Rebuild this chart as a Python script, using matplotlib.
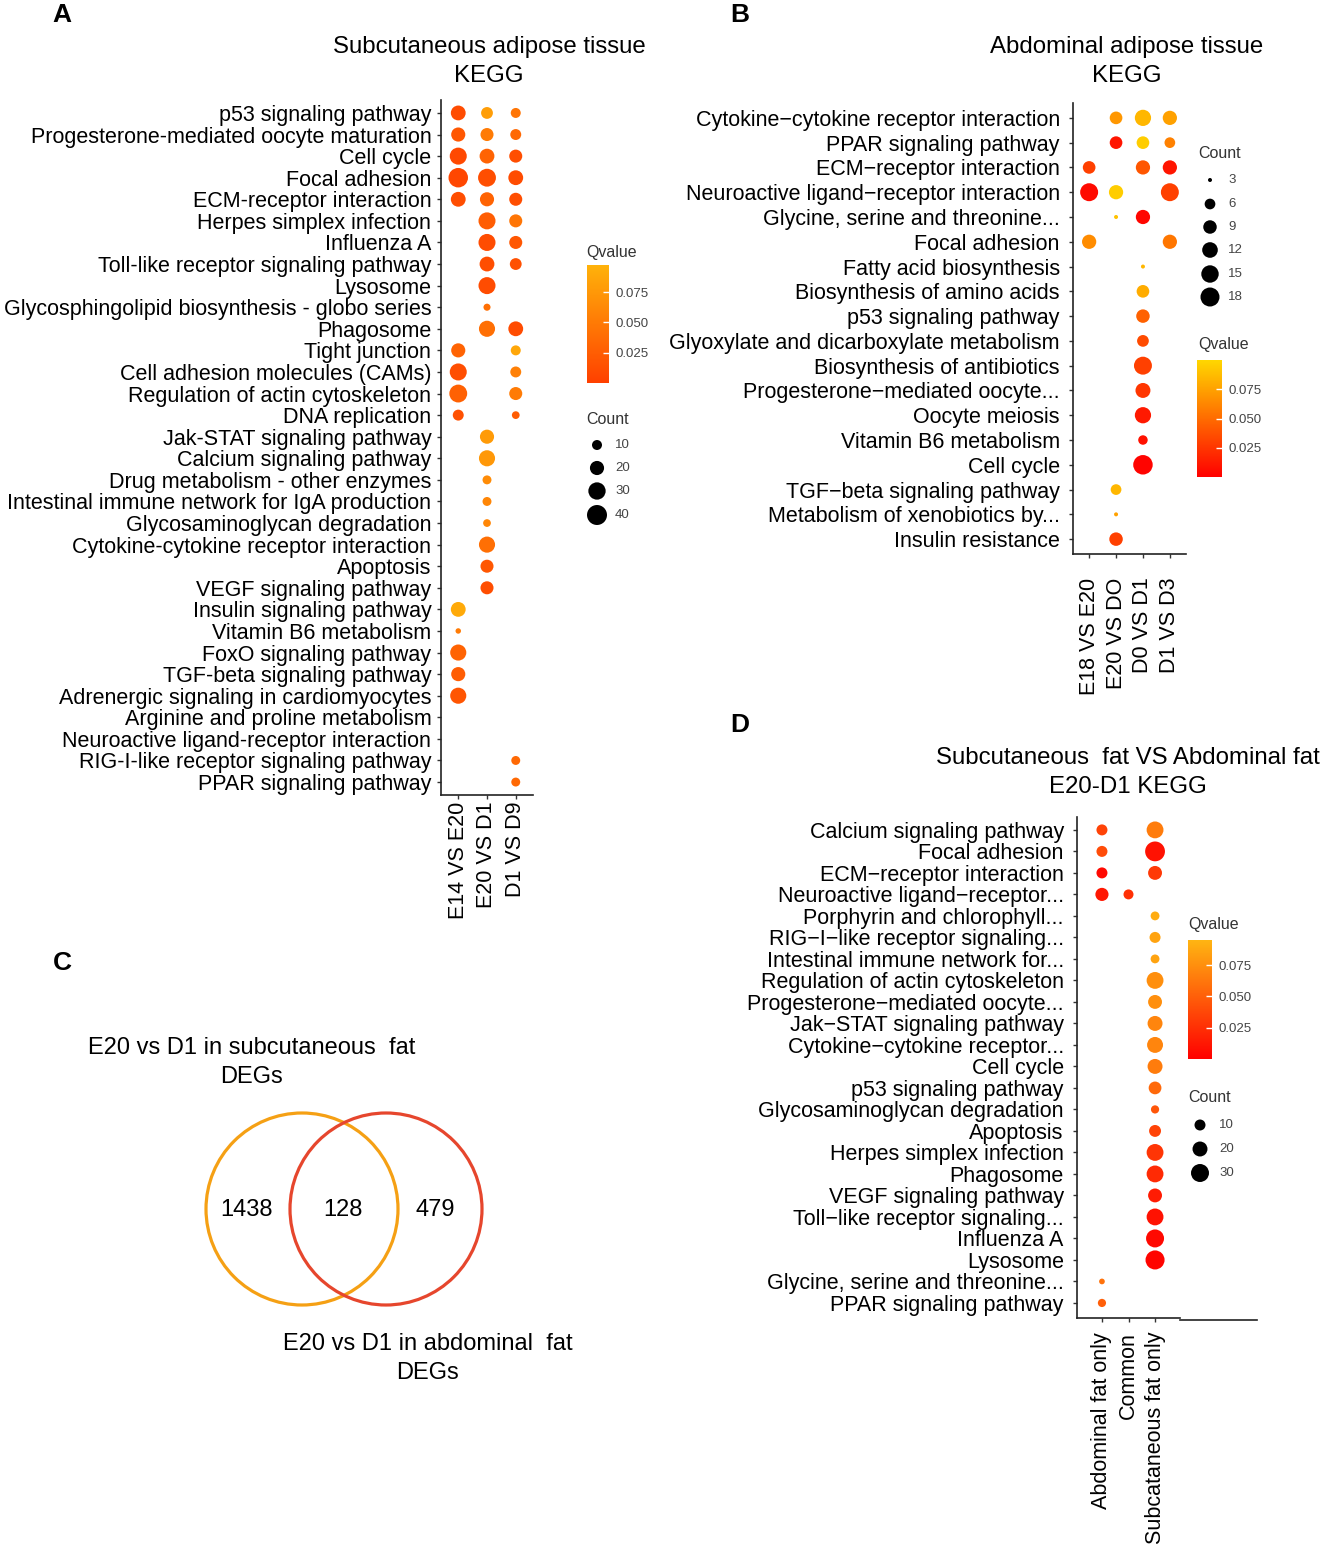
import numpy as np
import matplotlib
matplotlib.use("Agg")
import matplotlib.pyplot as plt
from matplotlib.colors import LinearSegmentedColormap, Normalize
from matplotlib.patches import Circle
import matplotlib.cm as cm

plt.rcParams['font.family'] = ['Liberation Sans', 'DejaVu Sans']

W, H = 1326, 1550
M = "\u2212"

# ---------------- Panel A data ----------------
A_pathways = [
    "p53 signaling pathway", "Progesterone-mediated oocyte maturation", "Cell cycle",
    "Focal adhesion", "ECM-receptor interaction", "Herpes simplex infection", "Influenza A",
    "Toll-like receptor signaling pathway", "Lysosome",
    "Glycosphingolipid biosynthesis - globo series", "Phagosome", "Tight junction",
    "Cell adhesion molecules (CAMs)", "Regulation of actin cytoskeleton", "DNA replication",
    "Jak-STAT signaling pathway", "Calcium signaling pathway", "Drug metabolism - other enzymes",
    "Intestinal immune network for IgA production", "Glycosaminoglycan degradation",
    "Cytokine-cytokine receptor interaction", "Apoptosis", "VEGF signaling pathway",
    "Insulin signaling pathway", "Vitamin B6 metabolism", "FoxO signaling pathway",
    "TGF-beta signaling pathway", "Adrenergic signaling in cardiomyocytes",
    "Arginine and proline metabolism", "Neuroactive ligand-receptor interaction",
    "RIG-I-like receptor signaling pathway", "PPAR signaling pathway"]
A_groups = ["E14 VS E20", "E20 VS D1", "D1 VS D9"]
A_count = [
    [22, 14, 10], [20, 17, 12], [29, 22, 17], [38, 32, 22], [22, 20, 17],
    [None, 29, 17], [None, 29, 17], [None, 22, 14], [None, 29, None], [None, 5, None],
    [None, 26, 22], [20, None, 10], [29, None, 12], [32, None, 17], [12, None, 6],
    [None, 20, None], [None, 26, None], [None, 8, None], [None, 8, None], [None, 6, None],
    [None, 26, None], [None, 17, None], [None, 17, None], [22, None, None], [3, None, None],
    [26, None, None], [20, None, None], [26, None, None], [None, None, None],
    [None, None, None], [None, None, 8], [None, None, 8]]
A_qvalue = [
    [0.010, 0.080, 0.045], [0.020, 0.050, 0.035], [0.008, 0.030, 0.012],
    [0.006, 0.012, 0.010], [0.012, 0.030, 0.012], [None, 0.025, 0.045],
    [None, 0.010, 0.020], [None, 0.012, 0.015], [None, 0.010, None], [None, 0.040, None],
    [None, 0.040, 0.010], [0.030, None, 0.088], [0.012, None, 0.055], [0.028, None, 0.050],
    [0.015, None, 0.025], [None, 0.078, None], [None, 0.075, None], [None, 0.065, None],
    [None, 0.060, None], [None, 0.060, None], [None, 0.040, None], [None, 0.020, None],
    [None, 0.012, None], [0.090, None, None], [0.050, None, None], [0.030, None, None],
    [0.025, None, None], [0.018, None, None], [None, None, None], [None, None, None],
    [None, None, 0.035], [None, None, 0.035]]
A_count_breaks = [10, 20, 30, 40]

# ---------------- Panel B data ----------------
B_pathways = [
    f"Cytokine{M}cytokine receptor interaction", "PPAR signaling pathway",
    f"ECM{M}receptor interaction", f"Neuroactive ligand{M}receptor interaction",
    "Glycine, serine and threonine...", "Focal adhesion", "Fatty acid biosynthesis",
    "Biosynthesis of amino acids", "p53 signaling pathway",
    "Glyoxylate and dicarboxylate metabolism", "Biosynthesis of antibiotics",
    f"Progesterone{M}mediated oocyte...", "Oocyte meiosis", "Vitamin B6 metabolism",
    "Cell cycle", f"TGF{M}beta signaling pathway", "Metabolism of xenobiotics by...",
    "Insulin resistance"]
B_groups = ["E18 VS E20", "E20 VS DO", "D0 VS D1", "D1 VS D3"]
B_count = [
    [None, 8, 13, 10], [None, 8, 8, 6], [8, None, 10, 10], [16, 10, None, 16],
    [None, 3, 10, None], [10, None, None, 10], [None, None, 3, None], [None, None, 8, None],
    [None, None, 9, None], [None, None, 7, None], [None, None, 16, None],
    [None, None, 11, None], [None, None, 13, None], [None, None, 5, None],
    [None, None, 19, None], [None, 6, None, None], [None, 3, None, None], [None, 9, None, None]]
B_qvalue = [
    [None, 0.070, 0.085, 0.075], [None, 0.010, 0.095, 0.060], [0.030, None, 0.040, 0.010],
    [0.005, 0.095, None, 0.030], [None, 0.090, 0.003, None], [0.065, None, None, 0.055],
    [None, None, 0.085, None], [None, None, 0.080, None], [None, None, 0.045, None],
    [None, None, 0.035, None], [None, None, 0.030, None], [None, None, 0.025, None],
    [None, None, 0.012, None], [None, None, 0.008, None], [None, None, 0.002, None],
    [None, 0.085, None, None], [None, 0.075, None, None], [None, 0.030, None, None]]
B_count_breaks = [3, 6, 9, 12, 15, 18]

# ---------------- Panel C data ----------------
C_venn_counts = [1438, 128, 479]
C_set_labels = [["E20 vs D1 in subcutaneous  fat", "DEGs"],
                ["E20 vs D1 in abdominal  fat", "DEGs"]]

# ---------------- Panel D data ----------------
D_pathways = [
    "Calcium signaling pathway", "Focal adhesion", f"ECM{M}receptor interaction",
    f"Neuroactive ligand{M}receptor...", "Porphyrin and chlorophyll...",
    f"RIG{M}I{M}like receptor signaling...", "Intestinal immune network for...",
    "Regulation of actin cytoskeleton", f"Progesterone{M}mediated oocyte...",
    f"Jak{M}STAT signaling pathway", f"Cytokine{M}cytokine receptor...", "Cell cycle",
    "p53 signaling pathway", "Glycosaminoglycan degradation", "Apoptosis",
    "Herpes simplex infection", "Phagosome", "VEGF signaling pathway",
    f"Toll{M}like receptor signaling...", "Influenza A", "Lysosome",
    "Glycine, serine and threonine...", "PPAR signaling pathway"]
D_groups = ["Abdominal fat only", "Common", "Subcataneous fat only"]
D_count = [
    [10, None, 26], [10, None, 37], [10, None, 17], [15, 8, None], [None, None, 6],
    [None, None, 10], [None, None, 6], [None, None, 26], [None, None, 17], [None, None, 20],
    [None, None, 23], [None, None, 20], [None, None, 14], [None, None, 5], [None, None, 12],
    [None, None, 26], [None, None, 26], [None, None, 17], [None, None, 26], [None, None, 30],
    [None, None, 34], [2, None, None], [5, None, None]]
D_qvalue = [
    [0.035, None, 0.065], [0.040, None, 0.010], [0.005, None, 0.030], [0.012, 0.025, None],
    [None, None, 0.090], [None, None, 0.085], [None, None, 0.085], [None, None, 0.075],
    [None, None, 0.075], [None, None, 0.070], [None, None, 0.070], [None, None, 0.065],
    [None, None, 0.055], [None, None, 0.045], [None, None, 0.035], [None, None, 0.028],
    [None, None, 0.022], [None, None, 0.015], [None, None, 0.010], [None, None, 0.005],
    [None, None, 0.002], [0.060, None, None], [0.050, None, None]]
D_count_breaks = [10, 20, 30]
Q_breaks = [0.025, 0.050, 0.075]

# ---------------- styling helpers ----------------
sizeA = lambda c: 3.16 * np.sqrt(c)
sizeB = lambda c: 4 + 15 * np.sqrt(max(c - 3, 0) / 15)
sizeD = lambda c: 1.45 + 3.02 * np.sqrt(c)
to_s = lambda d: (0.72 * d) ** 2

cmapA = LinearSegmentedColormap.from_list("A", ["#FF4000", "#FFB20A"])
cmapB = LinearSegmentedColormap.from_list("B", ["#FF0000", "#FFD700"])
cmapD = LinearSegmentedColormap.from_list("D", ["#FF0000", "#FFB512"])
normA = Normalize(0, 0.0975)
normB = Normalize(0, 0.100)
normD = Normalize(0, 0.095)

fig = plt.figure(figsize=(W / 100, H / 100), dpi=100)

ov = fig.add_axes([0, 0, 1, 1], facecolor='none')
ov.set_xlim(0, W)
ov.set_ylim(H, 0)
ov.axis('off')


def px_axes(left, top, right, bottom):
    return fig.add_axes([left / W, 1 - bottom / H, (right - left) / W, (bottom - top) / H])


def dot_panel(ax, terms, groups, counts, qvals, size_fn, cmap, norm, xlim, ylim, xpad, ypad):
    xs, ys, ss, cs = [], [], [], []
    for i, (crow, qrow) in enumerate(zip(counts, qvals)):
        for j, (c, q) in enumerate(zip(crow, qrow)):
            if c is None:
                continue
            xs.append(j + 1)
            ys.append(i + 1)
            ss.append(to_s(size_fn(c)))
            cs.append(q)
    ax.scatter(xs, ys, s=ss, c=cs, cmap=cmap, norm=norm, linewidths=0, zorder=3, clip_on=False)
    ax.set_xticks(range(1, len(groups) + 1))
    ax.set_xticklabels(groups, rotation=90, ha='center', va='top', fontsize=15.5)
    ax.set_yticks(range(1, len(terms) + 1))
    ax.set_yticklabels(terms, fontsize=15.5)
    ax.set_xlim(*xlim)
    ax.set_ylim(*ylim)
    ax.set_facecolor('none')
    for sp in ['top', 'right']:
        ax.spines[sp].set_visible(False)
    for sp in ['left', 'bottom']:
        ax.spines[sp].set_linewidth(1.2)
        ax.spines[sp].set_color('#222222')
    ax.tick_params(axis='both', length=3, width=1, color='#333333', labelcolor='black')
    ax.tick_params(axis='x', pad=xpad)
    ax.tick_params(axis='y', pad=ypad)


def colorbar(left, top, right, bottom, cmap, norm):
    cax = px_axes(left, top, right, bottom)
    cb = fig.colorbar(cm.ScalarMappable(norm=norm, cmap=cmap), cax=cax)
    cb.set_ticks(Q_breaks)
    cb.ax.set_yticklabels([f"{q:.3f}" for q in Q_breaks])
    cb.outline.set_visible(False)
    cb.ax.tick_params(direction='in', color='white', length=4, width=1,
                      labelsize=9.5, labelcolor='#444444', pad=5)
    return cb


def size_legend(x, ys, breaks, size_fn, label_x):
    ov.scatter([x] * len(breaks), ys, s=[to_s(size_fn(b)) for b in breaks], c='black', linewidths=0)
    for y, b in zip(ys, breaks):
        ov.text(label_x, y, str(b), fontsize=9.5, color='#444444', ha='left', va='center')


# ---------------- Panel A ----------------
axA = px_axes(441, 100, 533, 795)
dot_panel(axA, A_pathways, A_groups, A_count, A_qvalue, sizeA, cmapA, normA,
          (0.4, 3.6), (32.6, 0.4), xpad=2, ypad=4)
colorbar(587, 265, 609, 383, cmapA, normA)
ov.text(586, 252, "Qvalue", fontsize=11.5, color='#333333', va='center')
ov.text(586, 420, "Count", fontsize=11.5, color='#333333', va='center')
size_legend(597, [445, 468, 491, 515], A_count_breaks, sizeA, 615)
ov.text(489, 47, "Subcutaneous adipose tissue", fontsize=17.3, ha='center', va='center')
ov.text(489, 76, "KEGG", fontsize=17.3, ha='center', va='center')

# ---------------- Panel B ----------------
axB = px_axes(1073, 103, 1186, 554)
dot_panel(axB, B_pathways, B_groups, B_count, B_qvalue, sizeB, cmapB, normB,
          (0.4, 4.6), (18.6, 0.4), xpad=14, ypad=6.5)
colorbar(1197, 360, 1222, 477, cmapB, normB)
ov.text(1198, 345, "Qvalue", fontsize=11.5, color='#333333', va='center')
ov.text(1198, 153, "Count", fontsize=11.5, color='#333333', va='center')
size_legend(1210, [180, 204, 227, 250, 274, 297], B_count_breaks, sizeB, 1228)
ov.text(1127, 47, "Abdominal adipose tissue", fontsize=17.3, ha='center', va='center')
ov.text(1127, 76, "KEGG", fontsize=17.3, ha='center', va='center')

# ---------------- Panel D ----------------
axD = px_axes(1077, 817, 1180, 1318)
dot_panel(axD, D_pathways, D_groups, D_count, D_qvalue, sizeD, cmapD, normD,
          (0.06, 3.94), (23.7, 0.4), xpad=7, ypad=6.5)
ov.plot([1180, 1257], [1320, 1320], color='#222222', lw=1.2)
colorbar(1188, 940, 1212, 1059, cmapD, normD)
ov.text(1188, 924, "Qvalue", fontsize=11.5, color='#333333', va='center')
ov.text(1188, 1098, "Count", fontsize=11.5, color='#333333', va='center')
size_legend(1200, [1125, 1149, 1173], D_count_breaks, sizeD, 1219)
ov.text(1128, 758, "Subcutaneous  fat VS Abdominal fat", fontsize=17.3, ha='center', va='center')
ov.text(1128, 787, "E20-D1 KEGG", fontsize=17.3, ha='center', va='center')

# ---------------- Panel C (Venn) ----------------
ov.add_patch(Circle((302, 1209), 96, fill=False, ec='#F5A014', lw=2.3))
ov.add_patch(Circle((386, 1209), 96, fill=False, ec='#E6462D', lw=2.3))
for xc, n in zip([247, 343, 435], C_venn_counts):
    ov.text(xc, 1210, str(n), fontsize=17, ha='center', va='center')
for (cx, cy), lines in zip([(252, 1048), (428, 1344)], C_set_labels):
    for k, line in enumerate(lines):
        ov.text(cx, cy + 29 * k, line, fontsize=17, ha='center', va='center')

# ---------------- panel letters ----------------
for lab, (x, y) in zip("ABCD", [(62, 15), (740, 15), (62, 963), (740, 725)]):
    ov.text(x, y, lab, fontsize=19, fontweight='bold', ha='center', va='center')

fig.savefig("out.png", dpi=100)
